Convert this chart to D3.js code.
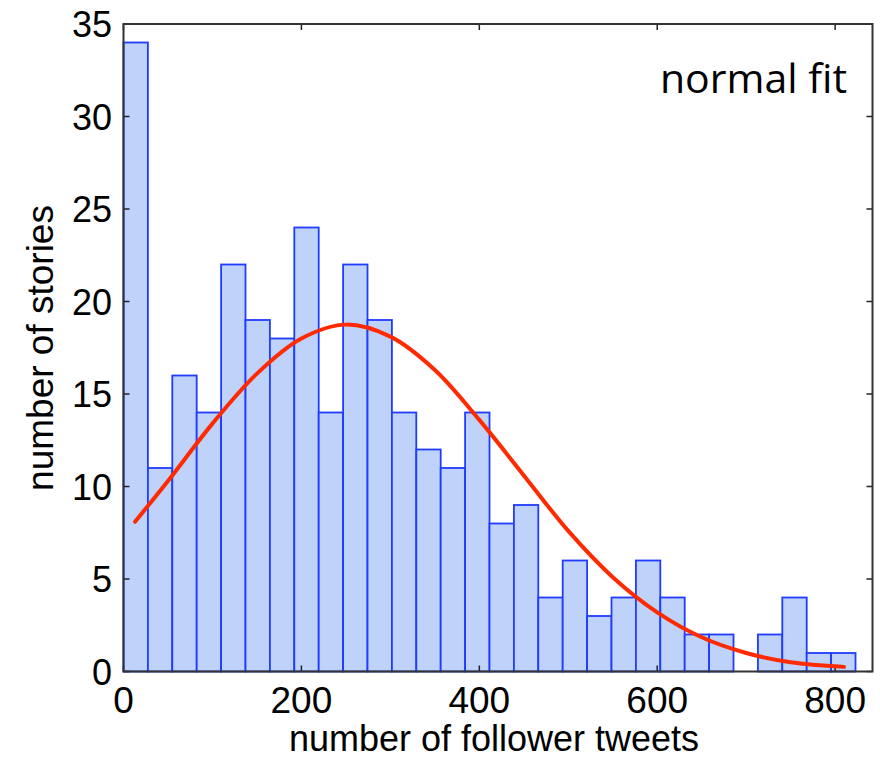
<!DOCTYPE html>
<html><head><meta charset="utf-8">
<script src="https://cdnjs.cloudflare.com/ajax/libs/d3/7.8.5/d3.min.js"></script>
<style>html,body{margin:0;padding:0;background:#fff;}svg{display:block;}</style>
</head><body>
<svg id="chart" width="880" height="759"></svg>
<script>
// Histogram: 30 equal-width bins starting at 0
const binStart = 0;
const binWidth = 27.43;
const counts = [34, 11, 16, 14, 22, 19, 18, 24, 14, 22, 19, 14, 12, 11, 14, 8, 9, 4, 6, 3, 4, 6, 4, 2, 2, 0, 2, 4, 1, 1];
// Normal fit curve
const fitX = [13, 50, 100, 150, 200, 250, 300, 350, 400, 450, 500, 550, 600, 650, 700, 750, 810];
const fitY = [8.1, 10.3, 13.4, 16.1, 18.0, 18.75, 18.1, 16.3, 13.6, 10.6, 7.6, 5.1, 3.2, 1.85, 1.0, 0.5, 0.25];
const xTicks = [0, 200, 400, 600, 800];
const yTicks = [0, 5, 10, 15, 20, 25, 30, 35];
const xDomain = [0, 842];
const yDomain = [0, 35];
const xTitle = "number of follower tweets";
const yTitle = "number of stories";
const legendText = "normal fit";

const svg = d3.select("#chart");
const L = 123.5, R = 872.5, T = 24, B = 671.5;
const x = d3.scaleLinear().domain(xDomain).range([L, R]);
const y = d3.scaleLinear().domain(yDomain).range([B, T]);

const bins = counts.map((c, i) => ({x0: binStart + i * binWidth, x1: binStart + (i + 1) * binWidth, c}));

// bars
svg.append("g").selectAll("rect").data(bins.filter(d => d.c > 0)).join("rect")
  .attr("x", d => x(d.x0)).attr("y", d => y(d.c))
  .attr("width", d => x(d.x1) - x(d.x0)).attr("height", d => y(0) - y(d.c))
  .attr("fill", "#bfd3fa").attr("stroke", "#1f3cff").attr("stroke-width", 1.8);

// ticks (inside), all four sides
const tickLen = 6;
const tg = svg.append("g").attr("stroke", "#222").attr("stroke-width", 1.5);
xTicks.forEach(t => {
  tg.append("line").attr("x1", x(t)).attr("x2", x(t)).attr("y1", B).attr("y2", B - tickLen);
  tg.append("line").attr("x1", x(t)).attr("x2", x(t)).attr("y1", T).attr("y2", T + tickLen);
});
yTicks.forEach(t => {
  tg.append("line").attr("x1", L).attr("x2", L + tickLen).attr("y1", y(t)).attr("y2", y(t));
  tg.append("line").attr("x1", R).attr("x2", R - tickLen).attr("y1", y(t)).attr("y2", y(t));
});

// fit curve
const line = d3.line().x(d => x(d[0])).y(d => y(d[1])).curve(d3.curveCatmullRom);
svg.append("path").datum(fitX.map((v, i) => [v, fitY[i]]))
  .attr("d", line).attr("fill", "none").attr("stroke", "#ff2a00").attr("stroke-width", 4)
  .attr("stroke-linecap", "round");

// frame
svg.append("rect").attr("x", L).attr("y", T).attr("width", R - L).attr("height", B - T)
  .attr("fill", "none").attr("stroke", "#333").attr("stroke-width", 2);

// tick labels
const font = "'Liberation Sans', Arial, Helvetica, sans-serif";
svg.append("g").selectAll("text").data(xTicks).join("text")
  .attr("x", d => x(d)).attr("y", 713).attr("text-anchor", "middle")
  .attr("font-family", font).attr("font-size", 37).attr("fill", "#000").text(d => d);
svg.append("g").selectAll("text").data(yTicks).join("text")
  .attr("x", 112).attr("y", d => y(d) + 13).attr("text-anchor", "end")
  .attr("font-family", font).attr("font-size", 36).attr("fill", "#000").text(d => d);

// titles
svg.append("text").attr("x", (L + R) / 2 - 4).attr("y", 751).attr("text-anchor", "middle")
  .attr("font-family", font).attr("font-size", 36).attr("fill", "#000").text(xTitle);
svg.append("text").attr("transform", "translate(53,348) rotate(-90)").attr("text-anchor", "middle")
  .attr("font-family", font).attr("font-size", 37).attr("fill", "#000").text(yTitle);

// legend text
svg.append("text").attr("x", 847).attr("y", 93).attr("text-anchor", "end")
  .attr("font-family", "'Open Sans', sans-serif").attr("font-size", 41).attr("fill", "#000").text(legendText);
</script>
</body></html>
